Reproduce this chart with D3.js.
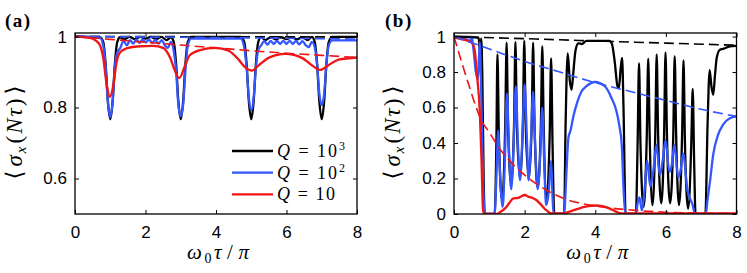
<!DOCTYPE html>
<html>
<head>
<meta charset="utf-8">
<script src="https://cdn.jsdelivr.net/npm/d3@7"></script>
<style>
body { margin: 0; background: #fff; }
svg { display: block; }
.tick text { font-family: "Liberation Sans", Arial, sans-serif; font-size: 17px; fill: #000; }
.tick line { stroke: #000; stroke-width: 1; }
.lbl { font-family: "Liberation Serif", "DejaVu Serif", serif; fill: #000; }
</style>
</head>
<body>
<svg id="chart" width="747" height="273"></svg>
<script>
// ---- data ----
var xTicks = [0, 2, 4, 6, 8];
var aYTicks = [0.6, 0.8, 1];
var bYTicks = [0, 0.2, 0.4, 0.6, 0.8, 1];
var legendLabels = ["3", "2", ""];   // exponents for Q = 10^3, 10^2, 10

// panel (a)
var aBlack = [[0,1],[0.7,0.999],[0.8,0.985],[0.87,0.92],[0.93,0.82],[1.0,0.767],[1.07,0.82],[1.13,0.92],[1.2,0.985],[1.28,0.998],
  [1.4,0.992],[1.55,0.999],[1.7,0.993],[1.85,0.999],[2.0,0.994],[2.15,0.999],[2.3,0.993],[2.45,0.999],[2.6,0.99],[2.72,0.998],
  [2.8,0.985],[2.87,0.92],[2.93,0.82],[3.0,0.767],[3.07,0.82],[3.13,0.92],[3.2,0.985],[3.3,0.999],[4.7,0.999],
  [4.8,0.985],[4.87,0.92],[4.93,0.82],[5.0,0.767],[5.07,0.82],[5.13,0.92],[5.2,0.985],[5.28,0.999],
  [5.4,0.99],[5.55,0.998],[5.7,0.992],[5.85,0.998],[6.0,0.993],[6.15,0.998],[6.3,0.992],[6.45,0.998],[6.6,0.99],[6.72,0.999],
  [6.8,0.985],[6.87,0.92],[6.93,0.82],[7.0,0.767],[7.07,0.82],[7.13,0.92],[7.2,0.985],[7.3,0.999],[8,0.999]];
var aBlue = [[0,1],[0.7,0.998],[0.8,0.975],[0.87,0.915],[0.93,0.82],[1.0,0.772],[1.07,0.82],[1.13,0.915],[1.2,0.955],[1.28,0.967],
  [1.38,0.988],[1.47,0.975],[1.56,0.99],[1.65,0.98],[1.74,0.992],[1.83,0.982],[1.92,0.992],[2.01,0.983],[2.1,0.992],
  [2.19,0.982],[2.28,0.991],[2.37,0.98],[2.46,0.99],[2.55,0.975],[2.63,0.968],[2.72,0.985],
  [2.8,0.96],[2.87,0.9],[2.93,0.81],[3.0,0.775],[3.07,0.81],[3.13,0.9],[3.2,0.975],[3.3,0.994],[4.7,0.994],
  [4.8,0.97],[4.87,0.91],[4.93,0.83],[5.0,0.793],[5.07,0.83],[5.13,0.91],[5.2,0.962],[5.28,0.975],
  [5.37,0.987],[5.46,0.977],[5.55,0.988],[5.64,0.979],[5.73,0.988],[5.82,0.979],[5.91,0.988],[6.0,0.979],[6.09,0.988],
  [6.18,0.979],[6.27,0.988],[6.36,0.978],[6.45,0.987],[6.55,0.975],[6.63,0.97],[6.72,0.985],
  [6.8,0.97],[6.87,0.92],[6.93,0.84],[7.0,0.807],[7.07,0.84],[7.13,0.92],[7.2,0.975],[7.3,0.989],[8,0.989]];
var aRed = [[0,1],[0.43,0.996],[0.6,0.988],[0.71,0.975],[0.8,0.94],[0.9,0.864],[0.99,0.83],[1.09,0.864],[1.18,0.928],
  [1.28,0.956],[1.47,0.967],[1.75,0.972],[2.22,0.974],[2.5,0.968],[2.7,0.94],[2.84,0.902],[2.96,0.883],[3.12,0.918],
  [3.26,0.948],[3.55,0.962],[3.97,0.968],[4.36,0.96],[4.64,0.935],[4.83,0.913],[5.02,0.904],[5.2,0.918],[5.49,0.94],
  [5.97,0.951],[6.44,0.94],[6.72,0.919],[6.96,0.906],[7.2,0.92],[7.48,0.935],[8,0.941]];
var aBlackDash = [[0,1],[4,0.9995],[8,0.999]];
var aBlueDash = [[0,1],[2,0.999],[4,0.997],[6,0.995],[8,0.993]];
var aRedDash = [[0,1],[1,0.992],[2,0.984],[3,0.976],[4,0.968],[5,0.96],[6,0.953],[7,0.947],[8,0.941]];

// panel (b)
var bBlack = [[0,1.0],[0.3,0.998],[0.6,0.995],[0.7,0.99],[0.74,0.9],[0.77,0.99],[0.8,0.8],[0.84,0.2],[0.87,0],[1.15,0],
  [1.2,0.4],[1.23,0.9],[1.27,0.45],[1.36,0.08],[1.45,0.5],[1.49,0.965],[1.53,0.5],[1.62,0.17],[1.7,0.5],[1.74,0.97],
  [1.78,0.5],[1.87,0.2],[1.95,0.5],[1.99,0.977],[2.03,0.5],[2.12,0.2],[2.2,0.5],[2.24,0.965],[2.28,0.5],[2.37,0.15],
  [2.46,0.5],[2.5,0.946],[2.54,0.5],[2.62,0.08],[2.71,0.45],[2.75,0.877],[2.79,0.4],[2.84,0],[3.12,0],
  [3.16,0.5],[3.22,0.905],[3.28,0.75],[3.33,0.7],[3.38,0.8],[3.44,0.92],[3.52,0.962],[3.62,0.958],[3.75,0.976],
  [4.4,0.976],[4.47,0.96],[4.55,0.86],[4.63,0.72],[4.67,0.71],[4.72,0.82],[4.76,0.88],[4.8,0.6],[4.86,0],[5.15,0],
  [5.2,0.4],[5.24,0.85],[5.28,0.4],[5.37,0.04],[5.46,0.45],[5.5,0.875],[5.54,0.45],[5.62,0.05],[5.7,0.45],[5.74,0.9],
  [5.78,0.45],[5.87,0.06],[5.95,0.45],[5.99,0.91],[6.03,0.45],[6.12,0.06],[6.21,0.45],[6.25,0.89],[6.29,0.45],
  [6.37,0.05],[6.46,0.45],[6.5,0.865],[6.54,0.4],[6.63,0.03],[6.72,0.4],[6.76,0.705],[6.8,0.3],[6.84,0],[7.12,0],
  [7.18,0.5],[7.24,0.81],[7.29,0.72],[7.34,0.672],[7.39,0.78],[7.44,0.88],[7.53,0.926],[7.62,0.93],[7.81,0.945],[8,0.947]];
var bBlue = [[0,0.995],[0.2,0.99],[0.4,0.98],[0.46,0.97],[0.5,1.0],[0.55,0.93],[0.62,0.8],[0.68,0.76],[0.73,0.97],
  [0.78,0.6],[0.83,0.15],[0.87,0],[1.15,0],[1.2,0.2],[1.25,0.47],[1.31,0.2],[1.38,0.04],[1.44,0.3],[1.5,0.68],
  [1.56,0.35],[1.62,0.14],[1.69,0.4],[1.75,0.72],[1.81,0.4],[1.87,0.19],[1.94,0.45],[2.0,0.73],[2.06,0.45],[2.11,0.19],
  [2.18,0.42],[2.24,0.69],[2.3,0.38],[2.37,0.14],[2.44,0.32],[2.5,0.6],[2.56,0.25],[2.61,0.05],[2.68,0.12],[2.75,0.3],
  [2.79,0.1],[2.82,0],[3.1,0],[3.14,0.05],[3.19,0.26],[3.24,0.43],[3.3,0.47],[3.38,0.55],[3.47,0.616],[3.61,0.69],
  [3.75,0.72],[3.99,0.744],[4.27,0.72],[4.46,0.654],[4.6,0.58],[4.68,0.5],[4.75,0.39],[4.8,0.15],[4.85,0],[5.15,0],
  [5.2,0.06],[5.25,0.094],[5.32,0.02],[5.39,0.12],[5.47,0.3],[5.56,0.154],[5.65,0.25],[5.73,0.39],[5.83,0.22],
  [5.91,0.3],[5.99,0.415],[6.1,0.238],[6.17,0.28],[6.24,0.39],[6.35,0.206],[6.42,0.25],[6.49,0.34],[6.61,0.135],
  [6.7,0.079],[6.76,0.05],[6.82,0],[7.13,0],[7.18,0.08],[7.25,0.184],[7.34,0.334],[7.48,0.447],[7.62,0.503],
  [7.81,0.54],[8,0.55]];
var bRed = [[0,0.995],[0.2,0.985],[0.4,0.975],[0.53,0.96],[0.59,0.917],[0.66,0.766],[0.73,0.58],[0.78,0.3],[0.82,0.03],
  [0.85,0],[1.21,0],[1.3,0.01],[1.44,0.03],[1.56,0.06],[1.68,0.088],[1.8,0.09],[1.87,0.096],[2.01,0.107],[2.1,0.098],
  [2.2,0.092],[2.32,0.08],[2.43,0.06],[2.62,0.02],[2.76,0.003],[3.09,0.003],[3.3,0.015],[3.6,0.035],[3.8,0.045],
  [4.0,0.048],[4.2,0.045],[4.4,0.032],[4.6,0.012],[4.75,0.003],[8,0.003]];
var bBlackDash = [[0,1],[2,0.988],[4,0.975],[6,0.963],[8,0.951]];
var bBlueDash = [[0,1],[1,0.93],[2,0.86],[3,0.8],[4,0.74],[5,0.69],[6,0.64],[7,0.59],[8,0.55]];
var bRedDash = [[0,1],[0.21,0.86],[0.4,0.74],[0.63,0.6],[0.77,0.53],[1.0,0.46],[1.25,0.38],[1.72,0.27],[2.19,0.19],
  [2.66,0.13],[3.14,0.085],[3.6,0.06],[4.0,0.046],[4.5,0.032],[4.93,0.024],[5.5,0.015],[6,0.01],[7,0.005],[8,0.003]];

var BLACK = "#000", BLUE = "#3356ff", RED = "#f01414";

var svg = d3.select("#chart");
var top0 = 33, bot0 = 214;

function drawPanel(p) {
  var x = d3.scaleLinear().domain([0, 8]).range([p.left, p.right]);
  var y = d3.scaleLinear().domain(p.yDomain).range([bot0, top0]);
  var g = svg.append("g");

  svg.append("clipPath").attr("id", "clip" + p.name)
    .append("rect").attr("x", p.left).attr("y", top0)
    .attr("width", p.right - p.left).attr("height", bot0 - top0);

  var line = d3.line().x(function(d){ return x(d[0]); }).y(function(d){ return y(d[1]); })
    .curve(d3.curveMonotoneX);

  var lines = g.append("g").attr("clip-path", "url(#clip" + p.name + ")");
  p.series.forEach(function(s) {
    lines.append("path").datum(s.data).attr("d", line)
      .attr("fill", "none").attr("stroke", s.color)
      .attr("stroke-width", s.dash ? 1.6 : 2.3)
      .attr("stroke-dasharray", s.dash ? "10,5" : null)
      .attr("stroke-linejoin", "round");
  });

  // axes, ticks pointing in like matlab
  g.append("g").attr("transform", "translate(0," + bot0 + ")")
    .call(d3.axisBottom(x).tickValues(xTicks).tickSize(-4).tickPadding(12).tickFormat(d3.format("d")));
  g.append("g").attr("transform", "translate(0," + top0 + ")")
    .call(d3.axisTop(x).tickValues(xTicks).tickSize(-4).tickFormat(""));
  g.append("g").attr("transform", "translate(" + p.left + ",0)")
    .call(d3.axisLeft(y).tickValues(p.yTicks).tickSize(-4).tickPadding(8).tickFormat(d3.format("~g")));
  g.append("g").attr("transform", "translate(" + p.right + ",0)")
    .call(d3.axisRight(y).tickValues(p.yTicks).tickSize(-4).tickFormat(""));
  g.selectAll(".domain").remove();

  g.append("rect").attr("x", p.left).attr("y", top0)
    .attr("width", p.right - p.left).attr("height", bot0 - top0)
    .attr("fill", "none").attr("stroke", "#000").attr("stroke-width", 1.3);

  // panel letter
  svg.append("text").attr("class", "lbl").attr("x", p.letterX).attr("y", 27)
    .attr("font-size", 19).attr("font-weight", "bold").attr("letter-spacing", 1.5)
    .text(p.letter);

  // y label  <sigma_x(N tau)>
  var yl = svg.append("text").attr("class", "lbl").attr("font-size", 23)
    .attr("text-anchor", "middle").attr("textLength", 94).attr("lengthAdjust", "spacing")
    .attr("transform", "translate(" + p.ylabX + "," + ((top0 + bot0) / 2 + 9) + ") rotate(-90)");
  yl.append("tspan").text("\u27E8");
  yl.append("tspan").attr("font-style", "italic").attr("dx", 2).text("\u03C3");
  yl.append("tspan").attr("font-style", "italic").attr("font-size", 15).attr("dy", 4).text("x");
  yl.append("tspan").attr("dy", -4).attr("dx", 1).text("(");
  yl.append("tspan").attr("font-style", "italic").text("N");
  yl.append("tspan").attr("font-style", "italic").text("\u03C4");
  yl.append("tspan").text(")");
  yl.append("tspan").attr("dx", 2).text("\u27E9");

  // x label  omega_0 tau / pi
  var xl = svg.append("text").attr("class", "lbl").attr("font-size", 21)
    .attr("text-anchor", "middle").attr("textLength", 62).attr("lengthAdjust", "spacing")
    .attr("x", (p.left + p.right) / 2 + 2).attr("y", 259);
  xl.append("tspan").attr("font-style", "italic").text("\u03C9");
  xl.append("tspan").attr("font-size", 14).attr("dy", 4).text("0");
  xl.append("tspan").attr("font-style", "italic").attr("dy", -4).text("\u03C4");
  xl.append("tspan").attr("dx", 3).text("/");
  xl.append("tspan").attr("font-style", "italic").attr("dx", 3).text("\u03C0");

  return g;
}

var ga = drawPanel({
  name: "a", left: 75, right: 357, yDomain: [0.5, 1.01], yTicks: aYTicks,
  letter: "(a)", letterX: 5, ylabX: 22,
  series: [
    { data: aBlack, color: BLACK }, { data: aBlue, color: BLUE }, { data: aRed, color: RED },
    { data: aBlackDash, color: BLACK, dash: true }, { data: aBlueDash, color: BLUE, dash: true },
    { data: aRedDash, color: RED, dash: true }
  ]
});

drawPanel({
  name: "b", left: 454, right: 736.5, yDomain: [0, 1.02], yTicks: bYTicks,
  letter: "(b)", letterX: 385, ylabX: 400,
  series: [
    { data: bBlack, color: BLACK }, { data: bBlue, color: BLUE }, { data: bRed, color: RED },
    { data: bBlackDash, color: BLACK, dash: true }, { data: bBlueDash, color: BLUE, dash: true },
    { data: bRedDash, color: RED, dash: true }
  ]
});

// legend for panel (a)
var legColors = [BLACK, BLUE, RED];
var leg = ga.append("g");
legendLabels.forEach(function(ex, i) {
  var ly = 151 + i * 21.7;
  leg.append("line").attr("x1", 232).attr("x2", 273).attr("y1", ly).attr("y2", ly)
    .attr("stroke", legColors[i]).attr("stroke-width", 2.3);
  var t = leg.append("text").attr("class", "lbl").attr("font-size", 18)
    .attr("x", 277).attr("y", ly + 6)
    .attr("textLength", ex ? 68 : 58).attr("lengthAdjust", "spacing");
  t.append("tspan").attr("font-style", "italic").text("Q");
  t.append("tspan").text(" = ");
  t.append("tspan").text("10");
  if (ex) t.append("tspan").attr("font-size", 12).attr("dy", -7).text(ex);
});
</script>
</body>
</html>
